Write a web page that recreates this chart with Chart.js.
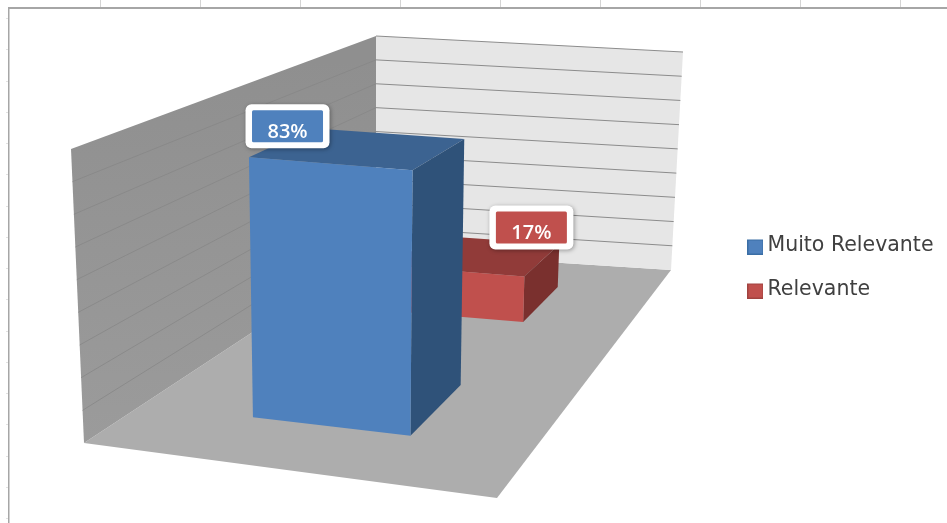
<!DOCTYPE html>
<html>
<head>
<meta charset="utf-8">
<style>html,body{margin:0;padding:0;background:#fff}canvas{display:block;filter:blur(0.4px)}</style>
<script src="https://cdn.jsdelivr.net/npm/chart.js@4/dist/chart.umd.js"></script>
</head>
<body>
<canvas id="c" width="947" height="523"></canvas>
<script>
// ---- data ----
const categories = [''];
const seriesNames = ['Muito Relevante', 'Relevante'];
const muitoRelevante = [83];
const relevante = [17];
const yTicks = [0, 10, 20, 30, 40, 50, 60, 70, 80, 90];

// ---- styles ----
const frontColors = ['#4f81bd', '#c0504d'];
const topColors = ['#3c6391', '#913b39'];
const sideColors = ['#2f5279', '#7a302e'];
const depthRows = [[0.147, 0.343], [0.645, 0.849]];
const labelAnchorOffset = [[-125, -44], [7, -49]];

// perspective box of the plot: floor and ceiling corners
const floorQuad = [[84, 443], [497, 498], [671, 270], [376, 251]];
const ceilQuad = [[71, 149], [501, 185], [683, 52], [376, 36]];
const U_SHIFT = 0.008;

function quadMap(q) {
  const [[x0, y0], [x1, y1], [x2, y2], [x3, y3]] = q;
  const dx1 = x1 - x2, dx2 = x3 - x2, sx = x0 - x1 + x2 - x3;
  const dy1 = y1 - y2, dy2 = y3 - y2, sy = y0 - y1 + y2 - y3;
  const den = dx1 * dy2 - dx2 * dy1;
  const g = (sx * dy2 - dx2 * sy) / den, h = (dx1 * sy - sx * dy1) / den;
  const a = x1 - x0 + g * x1, b = x3 - x0 + h * x3;
  const d = y1 - y0 + g * y1, e = y3 - y0 + h * y3;
  return (u, w) => {
    const k = g * u + h * w + 1;
    return [(a * u + b * w + x0) / k, (d * u + e * w + y0) / k];
  };
}
const floorMap = quadMap(floorQuad), ceilMap = quadMap(ceilQuad);
function project(u, w, v) {
  const f = floorMap(u, w), c = ceilMap(u, w);
  return [f[0] + (c[0] - f[0]) * v, f[1] + (c[1] - f[1]) * v];
}
function poly(ctx, pts, fill) {
  ctx.beginPath();
  pts.forEach((p, i) => i ? ctx.lineTo(p[0], p[1]) : ctx.moveTo(p[0], p[1]));
  ctx.closePath();
  ctx.fillStyle = fill;
  ctx.fill();
}
function line(ctx, a, b, color, width) {
  ctx.beginPath();
  ctx.moveTo(a[0], a[1]);
  ctx.lineTo(b[0], b[1]);
  ctx.strokeStyle = color;
  ctx.lineWidth = width;
  ctx.stroke();
}
function roundRect(ctx, x, y, w, h, r) {
  ctx.beginPath();
  ctx.roundRect(x, y, w, h, r);
}
function vOf(chart, value) {
  const s = chart.scales.y;
  return (s.getPixelForValue(0) - s.getPixelForValue(value)) / (s.getPixelForValue(0) - s.getPixelForValue(s.max));
}
function barCorners(chart, el, idx) {
  const a = chart.chartArea;
  const u0 = (el.x - el.width / 2 - a.left) / a.width + U_SHIFT;
  const u1 = (el.x + el.width / 2 - a.left) / a.width + U_SHIFT;
  const s = chart.scales.y;
  const v = (el.base - el.y) / (s.getPixelForValue(0) - s.getPixelForValue(s.max));
  const [w0, w1] = depthRows[idx];
  return { u0, u1, v, w0, w1 };
}

const swatches = frontColors.map((col) => {
  const c = document.createElement('canvas');
  c.width = 16; c.height = 18;
  const g = c.getContext('2d');
  g.fillStyle = col; g.fillRect(0, 3, 16, 15);
  g.strokeStyle = col === frontColors[0] ? '#3a6ea5' : '#a04340';
  g.lineWidth = 1; g.strokeRect(0.5, 3.5, 15, 14);
  return c;
});

const scene3d = {
  id: 'scene3d',
  beforeDatasetsDraw(chart) {
    const ctx = chart.ctx;
    ctx.save();
    // sheet frame of the screenshot
    ctx.strokeStyle = '#d4d4d4'; ctx.lineWidth = 1;
    for (let x = 100; x < 947; x += 100) { ctx.beginPath(); ctx.moveTo(x + 0.5, 0); ctx.lineTo(x + 0.5, 7); ctx.stroke(); }
    ctx.strokeStyle = '#e2e2e2';
    for (let i = 0; i < 17; i++) { const y = Math.round(18 + i * 31.25) + 0.5; ctx.beginPath(); ctx.moveTo(6, y); ctx.lineTo(8, y); ctx.stroke(); }
    ctx.fillStyle = '#a6a6a6';
    ctx.fillRect(8, 7, 939, 2);
    ctx.fillRect(8, 7, 1.5, 516);

    // floor
    poly(ctx, floorQuad, '#adadad');
    // left wall
    const lw = ctx.createLinearGradient(0, 60, 0, 440);
    lw.addColorStop(0, '#8f8f8f'); lw.addColorStop(1, '#9b9b9b');
    poly(ctx, [project(0,0,0), project(0,0,1), project(0,1,1), project(0,1,0)], lw);
    // back wall
    poly(ctx, [project(0,1,0), project(0,1,1), project(1,1,1), project(1,1,0)], '#e6e6e6');
    // grid lines driven by the value axis
    yTicks.forEach((t) => {
      const v = vOf(chart, t);
      if (t > 0 && t < 90) line(ctx, project(0,0,v), project(0,1,v), '#868686', 0.8);
      if (t > 0) line(ctx, project(0,1,v), project(1,1,v), '#8c8c8c', 1);
    });
    ctx.restore();
  },
  beforeDatasetDraw(chart, args) {
    const ctx = chart.ctx, i = args.index, el = args.meta.data[0];
    const { u0, u1, v, w0, w1 } = barCorners(chart, el, i);
    poly(ctx, [project(u0,w0,v), project(u1,w0,v), project(u1,w1,v), project(u0,w1,v)], topColors[i]);
    poly(ctx, [project(u1,w0,0), project(u1,w1,0), project(u1,w1,v), project(u1,w0,v)], sideColors[i]);
    poly(ctx, [project(u0,w0,0), project(u1,w0,0), project(u1,w0,v), project(u0,w0,v)], frontColors[i]);
    return false;
  },
  afterDatasetsDraw(chart) {
    const ctx = chart.ctx;
    chart.data.datasets.forEach((ds, i) => {
      const el = chart.getDatasetMeta(i).data[0];
      const { u1, v, w0 } = barCorners(chart, el, i);
      const p = project(u1, w0, v);
      const cx = p[0] + labelAnchorOffset[i][0], cy = p[1] + labelAnchorOffset[i][1];
      ctx.save();
      ctx.shadowColor = 'rgba(0,0,0,0.35)'; ctx.shadowBlur = 4; ctx.shadowOffsetY = 1; ctx.shadowOffsetX = 1;
      ctx.fillStyle = '#ffffff';
      roundRect(ctx, cx - 42, cy - 22, 84, 44, 6); ctx.fill();
      ctx.shadowColor = 'transparent';
      ctx.fillStyle = frontColors[i];
      roundRect(ctx, cx - 35.5, cy - 16, 71, 32, 1.5); ctx.fill();
      ctx.fillStyle = '#ffffff';
      ctx.font = '600 20px "Open Sans"';
      ctx.textAlign = 'center';
      ctx.textBaseline = 'alphabetic';
      ctx.fillText(ds.data[0] + '%', cx, cy + 12);
      ctx.restore();
    });
  }
};

new Chart(document.getElementById('c'), {
  type: 'bar',
  data: {
    labels: categories,
    datasets: [
      { label: seriesNames[0], data: muitoRelevante, backgroundColor: frontColors[0] },
      { label: seriesNames[1], data: relevante, backgroundColor: frontColors[1] }
    ]
  },
  plugins: [scene3d],
  options: {
    responsive: false,
    animation: false,
    categoryPercentage: 1,
    barPercentage: 0.404,
    layout: { padding: { top: 12, right: 3.5, left: 0, bottom: 0 } },
    scales: {
      x: { display: false, stacked: true },
      y: { display: false, stacked: false, min: 0, max: 90, ticks: { stepSize: 10 } }
    },
    plugins: {
      tooltip: { enabled: false },
      legend: {
        position: 'right',
        labels: {
          color: '#404040',
          font: { family: '"DejaVu Sans"', size: 20.5 },
          padding: 23.5,
          usePointStyle: true,
          pointStyleWidth: 3.5,
          boxHeight: 14,
          generateLabels(chart) {
            const items = Chart.defaults.plugins.legend.labels.generateLabels(chart);
            items.forEach((it, i) => { it.pointStyle = swatches[i]; });
            return items;
          }
        }
      }
    }
  }
});
</script>
</body>
</html>
